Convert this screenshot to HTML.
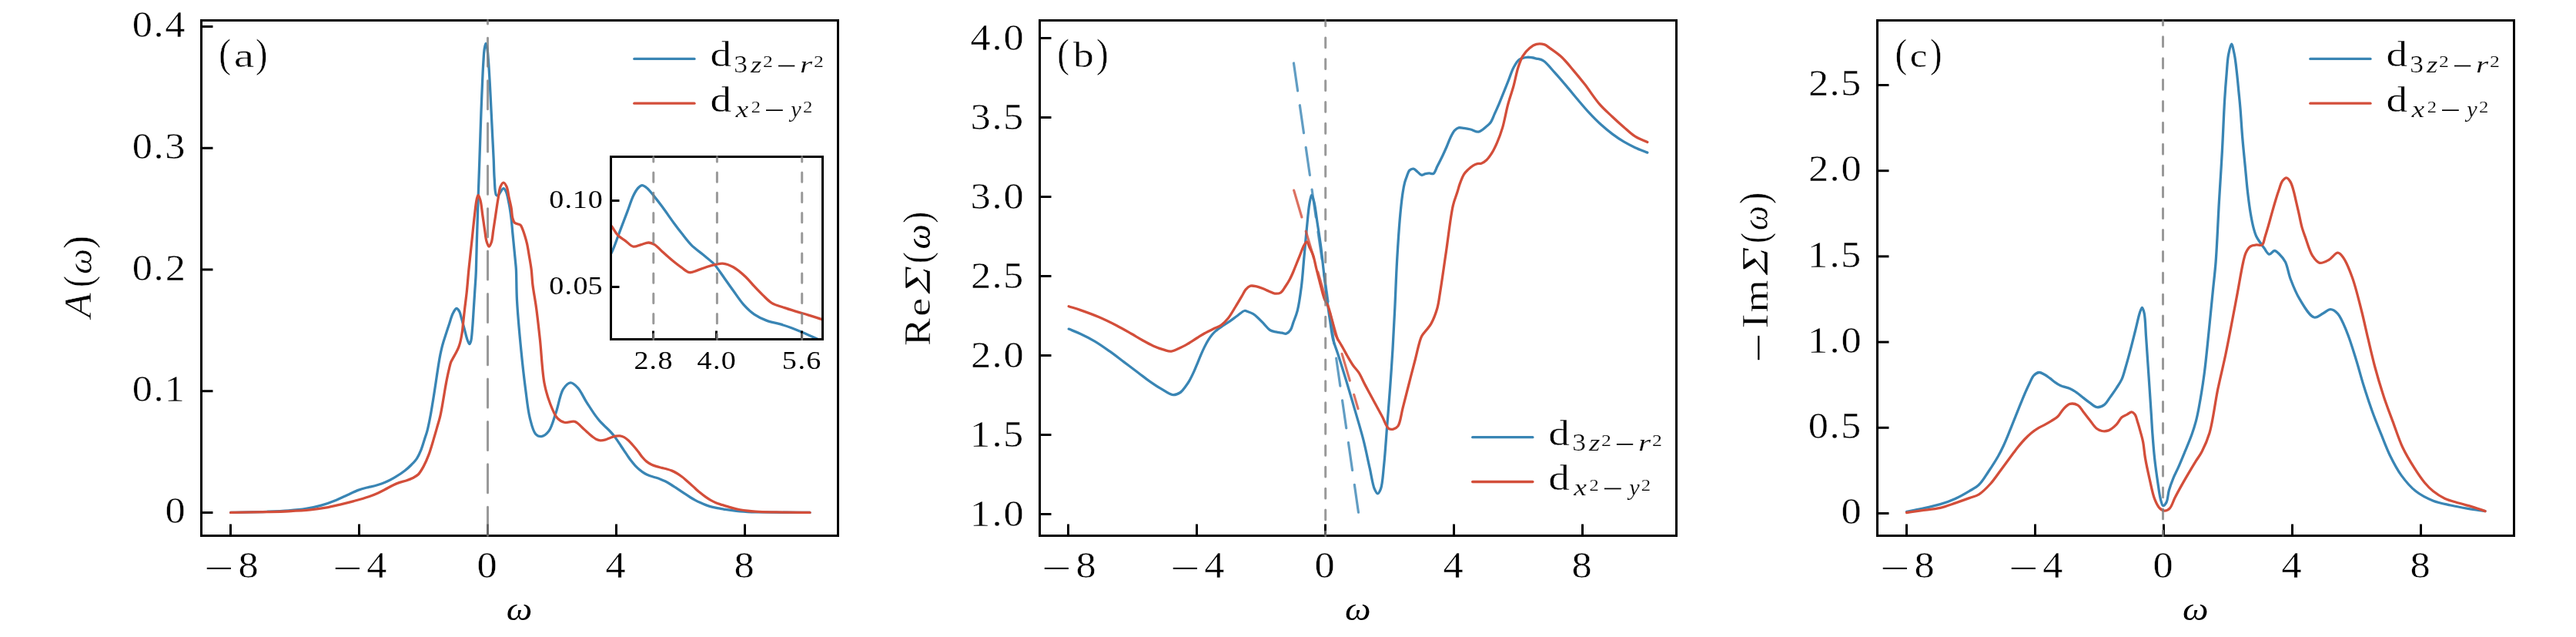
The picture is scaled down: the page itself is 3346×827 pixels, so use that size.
<!DOCTYPE html><html><head><meta charset="utf-8"><style>html,body{margin:0;padding:0;background:#fff;overflow:hidden;width:3346px;height:827px;}svg{display:block;will-change:transform;}text{font-family:"Liberation Serif",serif;}</style></head><body><svg width="3346" height="827" viewBox="0 0 3346 827" font-family="'Liberation Serif', serif"><rect width="3346" height="827" fill="#fff"/><path d="M299.60 665.40C315.23 665.03 332.83 664.78 346.50 664.28C357.12 663.89 365.91 663.58 374.80 662.88C382.77 662.25 390.15 661.60 397.40 660.42C404.25 659.31 410.66 657.97 417.20 656.12C423.83 654.24 430.92 651.62 436.90 649.20C442.07 647.11 446.37 644.83 451.10 642.69C455.80 640.56 460.71 638.08 465.20 636.40C469.13 634.94 473.80 633.69 476.50 632.98C477.99 632.59 478.54 632.54 480.00 632.20C482.48 631.62 486.69 630.73 490.00 629.75C493.36 628.76 496.46 627.80 500.00 626.29C504.29 624.45 509.42 621.76 513.80 619.17C518.04 616.66 522.30 613.84 525.90 611.02C529.11 608.51 531.87 605.94 534.50 603.25C537.01 600.69 539.42 598.27 541.40 595.30C543.48 592.18 544.99 588.79 546.60 584.90C548.52 580.26 550.29 573.83 551.80 569.16C553.01 565.44 553.96 563.05 555.00 559.10C556.44 553.64 557.95 545.90 559.20 539.30C560.44 532.75 561.56 525.39 562.50 519.65C563.23 515.19 563.77 511.75 564.40 507.73C565.04 503.62 565.67 499.45 566.30 495.28C566.94 491.05 567.57 486.68 568.20 482.53C568.80 478.56 569.37 474.68 570.00 470.90C570.60 467.31 571.23 463.72 571.90 460.40C572.51 457.38 573.13 454.49 573.80 451.78C574.40 449.33 574.96 447.33 575.70 444.83C576.58 441.85 577.65 438.66 578.80 435.11C580.20 430.79 581.92 425.49 583.50 420.77C585.05 416.16 586.33 410.73 588.20 407.10C589.60 404.38 591.34 400.63 592.90 400.50C594.17 400.39 595.68 402.60 596.70 404.30C598.07 406.58 598.52 410.10 599.50 413.48C600.70 417.64 602.04 422.80 603.30 427.42C604.54 431.98 605.65 437.49 607.00 441.00C607.91 443.36 609.06 446.71 609.90 446.70C610.58 446.69 611.19 444.68 611.70 442.90C612.72 439.31 613.04 432.22 613.60 425.90C614.31 417.97 614.85 407.36 615.40 399.04C615.87 391.82 616.26 385.49 616.70 378.80C617.13 372.21 617.71 364.51 618.00 359.20C618.20 355.56 618.26 354.06 618.40 350.00C618.67 342.06 618.98 325.91 619.30 314.80C619.59 304.82 619.89 296.12 620.20 286.37C620.53 276.05 620.86 264.46 621.20 254.50C621.50 245.71 621.81 237.82 622.10 229.68C622.38 221.80 622.62 214.66 622.90 206.41C623.22 197.03 623.56 186.54 623.90 176.35C624.26 165.81 624.60 154.85 625.00 144.20C625.40 133.67 625.83 123.27 626.30 112.80C626.77 102.33 627.21 90.47 627.80 81.40C628.25 74.45 628.53 67.57 629.30 63.00C629.77 60.22 630.41 56.41 631.00 56.40C631.58 56.39 632.29 59.94 632.80 62.60C633.67 67.14 634.05 74.33 634.60 81.40C635.31 90.53 635.92 102.29 636.50 112.80C637.09 123.39 637.58 134.20 638.10 144.71C638.61 154.96 639.09 164.84 639.60 175.09C640.12 185.60 640.75 197.01 641.20 207.00C641.60 215.84 641.59 224.01 642.20 232.00C642.76 239.39 642.65 250.98 644.60 253.30C645.27 254.09 646.25 254.28 647.00 254.00C648.14 253.57 648.95 250.72 650.10 249.17C651.28 247.58 652.77 244.59 654.00 244.60C655.13 244.61 656.26 246.62 657.20 248.50C658.89 251.87 659.98 258.59 661.10 264.20C662.37 270.55 663.42 278.24 664.20 284.70C664.90 290.44 665.16 295.35 665.70 301.03C666.29 307.21 666.97 313.95 667.60 320.43C668.23 326.91 668.99 334.46 669.50 339.89C669.87 343.81 670.14 345.51 670.40 350.00C670.92 358.92 670.67 375.02 671.50 390.00C672.57 409.25 674.99 435.54 677.00 455.90C678.74 473.54 680.57 489.88 682.60 505.20C684.38 518.63 685.61 532.31 688.30 542.90C690.34 550.94 692.29 559.97 695.80 563.60C697.93 565.80 700.74 566.91 703.30 566.60C706.38 566.23 710.06 563.34 712.80 559.80C716.89 554.51 719.20 544.02 722.20 535.40C725.50 525.92 727.34 511.79 731.60 505.20C734.28 501.05 737.79 497.10 741.00 496.90C744.06 496.71 747.44 500.19 750.40 503.30C754.49 507.60 757.85 515.75 761.70 521.80C765.49 527.77 770.06 534.91 773.30 539.38C775.40 542.27 776.82 544.06 778.80 546.30C780.84 548.62 783.19 550.84 785.40 553.05C787.59 555.24 789.94 557.32 792.00 559.50C793.96 561.57 795.82 563.66 797.50 565.78C799.10 567.79 800.45 569.81 801.90 571.90C803.39 574.05 804.83 576.30 806.30 578.50C807.77 580.69 809.23 582.89 810.70 585.08C812.17 587.26 813.62 589.48 815.10 591.62C816.55 593.74 817.91 595.80 819.50 597.86C821.17 600.03 823.07 602.37 824.90 604.33C826.57 606.12 828.07 607.57 830.00 609.19C832.23 611.06 835.08 613.30 837.60 614.78C839.81 616.07 841.97 616.94 844.20 617.78C846.37 618.58 848.61 619.04 850.80 619.72C853.01 620.42 855.22 621.09 857.40 621.92C859.62 622.78 861.84 623.73 864.00 624.81C866.20 625.91 868.34 627.18 870.50 628.48C872.71 629.82 874.91 631.29 877.10 632.73C879.31 634.17 881.54 635.67 883.70 637.11C885.77 638.49 887.72 639.82 889.80 641.19C891.95 642.61 894.18 644.11 896.40 645.48C898.58 646.82 900.78 648.13 903.00 649.33C905.18 650.50 907.38 651.59 909.60 652.60C911.78 653.60 913.99 654.53 916.20 655.36C918.36 656.17 920.51 656.91 922.70 657.54C924.88 658.18 927.09 658.70 929.30 659.17C931.49 659.64 933.96 660.04 935.90 660.37C937.43 660.64 938.30 660.77 940.00 661.04C942.78 661.48 947.40 662.25 951.00 662.73C954.46 663.19 957.80 663.59 961.20 663.90C964.60 664.21 968.00 664.42 971.40 664.60C974.80 664.77 977.62 664.86 981.60 664.95C987.23 665.08 993.70 665.14 1002.00 665.21C1014.99 665.32 1035.33 665.34 1052.00 665.40" fill="none" stroke="#3985b4" stroke-width="3.30" stroke-linejoin="round" stroke-linecap="round" /><path d="M299.60 665.40C315.23 665.14 332.83 664.95 346.50 664.63C357.12 664.38 365.38 664.22 374.80 663.77C384.21 663.32 394.44 662.82 403.00 661.94C410.20 661.19 416.22 660.31 422.80 659.12C429.42 657.93 436.27 656.26 442.60 654.77C448.47 653.40 453.66 652.14 459.50 650.56C465.86 648.83 473.56 646.74 479.30 644.75C483.84 643.18 487.65 641.58 491.30 639.94C494.46 638.51 496.98 637.14 500.00 635.58C503.32 633.85 507.06 631.58 510.40 629.98C513.37 628.56 516.10 627.36 519.00 626.35C521.83 625.37 524.75 624.94 527.60 623.98C530.52 623.00 533.63 621.89 536.30 620.50C538.80 619.20 541.09 618.09 543.20 616.00C545.79 613.43 547.95 609.51 550.10 605.60C552.61 601.04 554.88 595.71 557.00 590.10C559.40 583.75 561.60 575.66 563.50 569.36C565.08 564.10 566.31 559.79 567.70 554.87C569.14 549.77 570.72 544.85 572.00 539.30C573.43 533.07 574.69 524.97 575.70 519.24C576.46 514.97 576.96 511.74 577.60 508.02C578.23 504.36 578.84 500.63 579.50 497.12C580.11 493.83 580.76 490.61 581.40 487.58C581.99 484.80 582.52 482.38 583.20 479.62C583.94 476.58 584.62 472.85 585.70 470.10C586.60 467.82 587.78 466.20 588.90 464.14C590.11 461.93 591.54 459.58 592.70 457.28C593.83 455.05 594.95 452.74 595.80 450.54C596.58 448.53 597.16 446.60 597.70 444.62C598.23 442.66 598.58 440.88 599.00 438.72C599.51 436.10 600.09 433.00 600.50 430.00C600.93 426.84 601.09 424.09 601.50 420.23C602.10 414.58 603.01 406.23 603.80 399.39C604.57 392.73 605.43 386.94 606.20 379.70C607.14 370.82 607.88 360.33 608.90 350.00C610.02 338.72 611.44 326.46 612.70 314.65C613.97 302.79 615.26 289.27 616.50 279.00C617.45 271.16 618.14 262.74 619.30 258.30C619.88 256.09 620.49 253.51 621.20 253.50C622.03 253.49 623.20 257.26 624.00 260.10C625.31 264.77 625.86 272.84 626.80 279.28C627.76 285.80 628.78 292.99 629.70 298.99C630.47 304.03 630.74 309.10 631.90 312.90C632.76 315.73 634.07 319.96 635.20 320.00C636.21 320.04 637.47 316.88 638.30 314.50C639.59 310.82 639.86 304.95 640.70 299.57C641.68 293.26 642.75 285.87 643.80 278.97C644.85 272.01 645.87 264.47 647.00 258.00C647.98 252.38 648.44 245.97 650.10 242.30C651.15 239.97 652.69 237.21 654.00 237.20C655.32 237.19 656.92 240.02 658.00 242.30C659.61 245.70 660.07 251.70 661.10 256.40C662.13 261.10 663.42 265.95 664.20 270.50C664.92 274.70 664.79 279.31 665.70 282.70C666.39 285.29 667.14 288.00 668.50 289.30C669.52 290.28 671.03 290.24 672.30 290.73C673.57 291.21 675.06 291.25 676.10 292.20C677.39 293.38 678.03 295.76 678.90 297.85C679.92 300.29 680.80 303.09 681.70 306.01C682.71 309.32 683.72 312.77 684.60 316.70C685.66 321.44 686.49 327.12 687.40 332.52C688.36 338.20 689.46 344.00 690.20 350.00C690.98 356.31 691.03 362.29 691.90 369.50C692.99 378.55 695.12 389.07 696.60 400.00C698.31 412.62 699.79 426.14 701.40 440.90C703.29 458.28 704.19 482.47 707.10 497.70C709.12 508.24 711.53 516.08 714.60 524.00C717.30 530.96 720.14 538.76 724.00 542.90C726.79 545.89 729.93 547.68 733.50 548.50C737.41 549.39 742.70 546.14 746.70 547.40C750.91 548.73 754.58 553.84 758.00 556.79C760.92 559.31 763.77 562.04 766.00 563.95C767.55 565.27 768.61 566.20 770.00 567.23C771.41 568.26 772.79 569.37 774.40 570.14C776.08 570.94 777.97 571.72 779.90 571.86C781.98 572.02 784.33 571.41 786.50 570.83C788.73 570.23 790.89 569.05 793.10 568.27C795.29 567.51 797.58 566.60 799.70 566.22C801.59 565.88 803.39 565.70 805.20 565.92C807.05 566.16 808.94 566.75 810.70 567.65C812.62 568.63 814.44 570.18 816.20 571.75C818.09 573.43 819.82 575.50 821.60 577.50C823.45 579.56 825.58 582.06 827.10 583.94C828.24 585.35 828.95 586.32 830.00 587.72C831.30 589.45 832.71 591.67 834.30 593.54C835.96 595.49 837.77 597.55 839.80 599.16C841.81 600.76 844.15 602.10 846.40 603.20C848.55 604.25 850.78 604.97 853.00 605.67C855.18 606.37 857.40 606.85 859.60 607.40C861.80 607.95 864.02 608.36 866.20 608.98C868.39 609.60 870.56 610.22 872.70 611.11C874.93 612.05 877.14 613.21 879.30 614.50C881.54 615.84 884.01 617.63 885.90 619.03C887.39 620.14 888.35 620.94 889.80 622.17C891.73 623.80 894.21 626.05 896.40 628.02C898.61 630.02 900.79 632.09 903.00 634.08C905.19 636.04 907.37 638.01 909.60 639.85C911.77 641.64 913.97 643.39 916.20 644.97C918.34 646.49 920.49 647.93 922.70 649.19C924.86 650.41 927.07 651.50 929.30 652.45C931.47 653.37 933.95 654.17 935.90 654.82C937.42 655.33 938.30 655.57 940.00 656.09C942.78 656.93 947.39 658.40 951.00 659.36C954.45 660.27 957.79 661.10 961.20 661.75C964.59 662.40 967.99 662.87 971.40 663.25C974.79 663.63 977.61 663.82 981.60 664.05C987.23 664.37 995.20 664.62 1002.00 664.80C1008.80 664.98 1014.97 665.06 1022.40 665.15C1031.35 665.27 1042.13 665.32 1052.00 665.40" fill="none" stroke="#d34e3a" stroke-width="3.30" stroke-linejoin="round" stroke-linecap="round" /><rect x="793.50" y="203.50" width="275.00" height="237.00" fill="#fff"/><clipPath id="ic"><rect x="793.50" y="203.50" width="275.00" height="237.00"/></clipPath><g clip-path="url(#ic)"><path d="M790.00 335.00C791.67 332.27 793.22 330.42 795.00 326.80C798.05 320.60 801.75 309.20 805.10 300.41C808.45 291.63 812.00 282.27 815.10 274.09C817.81 266.94 820.02 259.44 822.70 254.00C824.69 249.98 826.66 246.28 828.90 244.00C830.51 242.36 832.19 240.78 834.00 240.70C835.94 240.62 838.05 242.29 840.20 244.00C843.38 246.53 847.00 251.60 850.30 255.63C853.70 259.78 856.68 263.67 860.30 268.54C864.87 274.69 870.84 283.50 875.40 289.69C879.03 294.62 881.83 298.32 885.40 302.83C889.31 307.76 893.37 313.47 898.00 318.10C902.61 322.70 908.31 326.58 913.10 330.53C917.47 334.14 922.66 338.07 925.60 340.88C927.38 342.57 928.00 343.27 929.60 345.25C932.51 348.85 937.20 355.88 941.00 361.20C944.80 366.53 948.41 371.72 952.40 377.22C956.71 383.16 961.18 390.26 966.00 395.60C970.34 400.41 974.71 404.66 979.70 408.10C984.59 411.47 990.01 413.97 995.60 416.10C1001.35 418.29 1008.19 419.27 1013.80 420.95C1018.71 422.41 1022.97 423.82 1027.50 425.48C1032.07 427.16 1036.26 428.93 1041.10 430.98C1046.74 433.37 1053.79 436.54 1059.30 439.05C1063.92 441.16 1067.77 443.02 1072.00 445.00" fill="none" stroke="#3985b4" stroke-width="3.30" stroke-linejoin="round" stroke-linecap="round" /><path d="M790.00 288.00C791.67 290.19 793.19 292.08 795.00 294.57C797.30 297.73 799.60 302.41 802.60 305.50C805.50 308.48 809.25 310.45 812.60 312.88C815.95 315.31 819.18 319.44 822.70 320.10C825.91 320.71 829.37 318.42 832.70 317.58C836.03 316.72 839.61 314.88 842.70 315.00C845.42 315.11 847.75 316.09 850.30 317.60C853.61 319.56 856.76 323.56 860.30 326.74C864.24 330.27 868.65 334.32 872.90 337.82C877.02 341.22 881.39 344.69 885.40 347.46C888.88 349.87 892.03 353.18 895.50 353.70C898.74 354.18 902.00 352.17 905.50 351.08C909.48 349.84 913.97 347.85 918.10 346.55C922.00 345.33 925.97 344.20 929.60 343.45C932.79 342.78 935.40 341.81 938.70 342.10C942.84 342.47 947.87 344.26 952.40 346.70C957.76 349.59 963.60 354.83 968.30 359.20C972.60 363.20 975.87 367.64 979.70 371.70C983.47 375.69 987.24 379.71 991.10 383.37C994.81 386.89 998.04 390.67 1002.40 393.30C1007.06 396.11 1012.86 397.50 1018.40 399.42C1024.24 401.44 1030.97 403.35 1036.60 405.05C1041.46 406.53 1045.26 407.54 1050.20 409.10C1056.20 410.98 1066.86 414.10 1070.00 415.65C1071.07 416.17 1071.33 416.55 1072.00 417.00" fill="none" stroke="#d34e3a" stroke-width="3.30" stroke-linejoin="round" stroke-linecap="round" /></g><rect x="793.50" y="203.50" width="275.00" height="237.00" fill="none" stroke="#000" stroke-width="3.00"/><line x1="793.50" y1="260.50" x2="804.50" y2="260.50" stroke="#000" stroke-width="3.00"/><line x1="793.50" y1="372.50" x2="804.50" y2="372.50" stroke="#000" stroke-width="3.00"/><line x1="848.50" y1="440.50" x2="848.50" y2="429.50" stroke="#000" stroke-width="3.00"/><line x1="930.50" y1="440.50" x2="930.50" y2="429.50" stroke="#000" stroke-width="3.00"/><line x1="1041.50" y1="440.50" x2="1041.50" y2="429.50" stroke="#000" stroke-width="3.00"/><path d="M848.80 440.50L848.80 203.50" stroke="#808080" stroke-opacity="0.80" stroke-width="3.00" stroke-linecap="round" stroke-dasharray="12.20 14.00" stroke-dashoffset="5.40" fill="none"/><path d="M931.40 440.50L931.40 203.50" stroke="#808080" stroke-opacity="0.80" stroke-width="3.00" stroke-linecap="round" stroke-dasharray="12.20 14.00" stroke-dashoffset="5.40" fill="none"/><path d="M1041.70 440.50L1041.70 203.50" stroke="#808080" stroke-opacity="0.80" stroke-width="3.00" stroke-linecap="round" stroke-dasharray="12.20 14.00" stroke-dashoffset="5.40" fill="none"/><text transform="translate(713.19 270.00) scale(1.1000 1)" font-size="34.60" font-style="normal" fill="#000">0</text><text transform="translate(733.54 270.00) scale(1.1000 1)" font-size="34.60" font-style="normal" fill="#000">.</text><text transform="translate(743.86 270.00) scale(1.1000 1)" font-size="34.60" font-style="normal" fill="#000">1</text><text transform="translate(763.78 270.00) scale(1.1000 1)" font-size="34.60" font-style="normal" fill="#000">0</text><text transform="translate(713.19 382.00) scale(1.1000 1)" font-size="34.60" font-style="normal" fill="#000">0</text><text transform="translate(733.54 382.00) scale(1.1000 1)" font-size="34.60" font-style="normal" fill="#000">.</text><text transform="translate(744.38 382.00) scale(1.1000 1)" font-size="34.60" font-style="normal" fill="#000">0</text><text transform="translate(763.42 382.00) scale(1.1000 1)" font-size="34.60" font-style="normal" fill="#000">5</text><text transform="translate(823.40 479.20) scale(1.1000 1)" font-size="34.60" font-style="normal" fill="#000">2</text><text transform="translate(843.54 479.20) scale(1.1000 1)" font-size="34.60" font-style="normal" fill="#000">.</text><text transform="translate(854.38 479.20) scale(1.1000 1)" font-size="34.60" font-style="normal" fill="#000">8</text><text transform="translate(905.51 479.20) scale(1.1000 1)" font-size="34.60" font-style="normal" fill="#000">4</text><text transform="translate(925.94 479.20) scale(1.1000 1)" font-size="34.60" font-style="normal" fill="#000">.</text><text transform="translate(936.79 479.20) scale(1.1000 1)" font-size="34.60" font-style="normal" fill="#000">0</text><text transform="translate(1015.82 479.20) scale(1.1000 1)" font-size="34.60" font-style="normal" fill="#000">5</text><text transform="translate(1036.54 479.20) scale(1.1000 1)" font-size="34.60" font-style="normal" fill="#000">.</text><text transform="translate(1047.13 479.20) scale(1.1000 1)" font-size="34.60" font-style="normal" fill="#000">6</text><rect x="261.50" y="26.50" width="827.00" height="669.00" fill="none" stroke="#000" stroke-width="3.00"/><line x1="261.50" y1="665.50" x2="276.50" y2="665.50" stroke="#000" stroke-width="3.00"/><line x1="261.50" y1="507.75" x2="276.50" y2="507.75" stroke="#000" stroke-width="3.00"/><line x1="261.50" y1="350.00" x2="276.50" y2="350.00" stroke="#000" stroke-width="3.00"/><line x1="261.50" y1="192.25" x2="276.50" y2="192.25" stroke="#000" stroke-width="3.00"/><line x1="261.50" y1="34.50" x2="276.50" y2="34.50" stroke="#000" stroke-width="3.00"/><line x1="299.50" y1="695.50" x2="299.50" y2="680.50" stroke="#000" stroke-width="3.00"/><line x1="466.50" y1="695.50" x2="466.50" y2="680.50" stroke="#000" stroke-width="3.00"/><line x1="633.50" y1="695.50" x2="633.50" y2="680.50" stroke="#000" stroke-width="3.00"/><line x1="800.50" y1="695.50" x2="800.50" y2="680.50" stroke="#000" stroke-width="3.00"/><line x1="967.50" y1="695.50" x2="967.50" y2="680.50" stroke="#000" stroke-width="3.00"/><path d="M633.50 695.50L633.50 26.50" stroke="#808080" stroke-opacity="0.80" stroke-width="3.00" stroke-linecap="round" stroke-dasharray="37.00 18.35" stroke-dashoffset="-0.35" fill="none"/><text transform="translate(214.46 679.20) scale(1.1000 1)" font-size="47.60" font-style="normal" fill="#000" stroke="#fff" stroke-width="0.45">0</text><text transform="translate(171.66 521.45) scale(1.1000 1)" font-size="47.60" font-style="normal" fill="#000" stroke="#fff" stroke-width="0.45">0</text><text transform="translate(199.61 521.45) scale(1.1000 1)" font-size="47.60" font-style="normal" fill="#000" stroke="#fff" stroke-width="0.45">.</text><text transform="translate(213.73 521.45) scale(1.1000 1)" font-size="47.60" font-style="normal" fill="#000" stroke="#fff" stroke-width="0.45">1</text><text transform="translate(171.66 363.70) scale(1.1000 1)" font-size="47.60" font-style="normal" fill="#000" stroke="#fff" stroke-width="0.45">0</text><text transform="translate(199.61 363.70) scale(1.1000 1)" font-size="47.60" font-style="normal" fill="#000" stroke="#fff" stroke-width="0.45">.</text><text transform="translate(214.75 363.70) scale(1.1000 1)" font-size="47.60" font-style="normal" fill="#000" stroke="#fff" stroke-width="0.45">2</text><text transform="translate(171.66 205.95) scale(1.1000 1)" font-size="47.60" font-style="normal" fill="#000" stroke="#fff" stroke-width="0.45">0</text><text transform="translate(199.61 205.95) scale(1.1000 1)" font-size="47.60" font-style="normal" fill="#000" stroke="#fff" stroke-width="0.45">.</text><text transform="translate(214.23 205.95) scale(1.1000 1)" font-size="47.60" font-style="normal" fill="#000" stroke="#fff" stroke-width="0.45">3</text><text transform="translate(171.66 48.20) scale(1.1000 1)" font-size="47.60" font-style="normal" fill="#000" stroke="#fff" stroke-width="0.45">0</text><text transform="translate(199.61 48.20) scale(1.1000 1)" font-size="47.60" font-style="normal" fill="#000" stroke="#fff" stroke-width="0.45">.</text><text transform="translate(214.36 48.20) scale(1.1000 1)" font-size="47.60" font-style="normal" fill="#000" stroke="#fff" stroke-width="0.45">4</text><rect x="268.75" y="736.90" width="31.20" height="2.10" fill="#000"/><text transform="translate(309.41 750.00) scale(1.1000 1)" font-size="47.60" font-style="normal" fill="#000" stroke="#fff" stroke-width="0.45">8</text><rect x="435.75" y="736.90" width="31.20" height="2.10" fill="#000"/><text transform="translate(476.31 750.00) scale(1.1000 1)" font-size="47.60" font-style="normal" fill="#000" stroke="#fff" stroke-width="0.45">4</text><text transform="translate(619.51 750.00) scale(1.1000 1)" font-size="47.60" font-style="normal" fill="#000" stroke="#fff" stroke-width="0.45">0</text><text transform="translate(786.41 750.00) scale(1.1000 1)" font-size="47.60" font-style="normal" fill="#000" stroke="#fff" stroke-width="0.45">4</text><text transform="translate(953.51 750.00) scale(1.1000 1)" font-size="47.60" font-style="normal" fill="#000" stroke="#fff" stroke-width="0.45">8</text><line x1="823.80" y1="76.40" x2="902.00" y2="76.40" stroke="#3985b4" stroke-width="3.3" stroke-linecap="round"/><line x1="823.80" y1="134.20" x2="902.00" y2="134.20" stroke="#d34e3a" stroke-width="3.3" stroke-linecap="round"/><text transform="translate(922.41 86.45) scale(1.1935 1)" font-size="46.19" font-style="normal" fill="#000" stroke="#fff" stroke-width="0.43">d</text><text transform="translate(953.31 93.59) scale(1.1254 1)" font-size="31.40" font-style="normal" fill="#000" stroke="#fff" stroke-width="0.22">3</text><text transform="translate(975.01 93.90) scale(1.2108 1)" font-size="30.50" font-style="italic" fill="#000" stroke="#fff" stroke-width="0.21">z</text><text transform="translate(991.07 87.30) scale(1.2509 1)" font-size="20.54" font-style="normal" fill="#000" stroke="#fff" stroke-width="0.14">2</text><text transform="translate(1039.02 93.50) scale(1.4388 1)" font-size="28.86" font-style="italic" fill="#000" stroke="#fff" stroke-width="0.20">r</text><text transform="translate(1057.07 87.30) scale(1.2509 1)" font-size="20.54" font-style="normal" fill="#000" stroke="#fff" stroke-width="0.14">2</text><text transform="translate(922.41 144.55) scale(1.1862 1)" font-size="46.47" font-style="normal" fill="#000" stroke="#fff" stroke-width="0.44">d</text><text transform="translate(955.46 151.60) scale(1.2710 1)" font-size="29.63" font-style="italic" fill="#000" stroke="#fff" stroke-width="0.20">x</text><text transform="translate(975.63 145.90) scale(1.1562 1)" font-size="21.14" font-style="normal" fill="#000" stroke="#fff" stroke-width="0.15">2</text><text transform="translate(1027.23 151.74) scale(1.0126 1)" font-size="29.93" font-style="italic" fill="#000" stroke="#fff" stroke-width="0.21">y</text><text transform="translate(1042.91 145.90) scale(1.1679 1)" font-size="21.14" font-style="normal" fill="#000" stroke="#fff" stroke-width="0.15">2</text><rect x="1011.00" y="84.70" width="21.30" height="1.7" fill="#000"/><rect x="995.00" y="142.30" width="21.80" height="1.7" fill="#000"/><text transform="translate(284.31 87.26) scale(0.9164 1)" font-size="51.83" font-style="normal" fill="#000" stroke="#fff" stroke-width="0.49">(</text><text transform="translate(303.81 86.56) scale(1.3316 1)" font-size="44.68" font-style="normal" fill="#000" stroke="#fff" stroke-width="0.42">a</text><text transform="translate(331.91 87.26) scale(0.8939 1)" font-size="51.83" font-style="normal" fill="#000" stroke="#fff" stroke-width="0.49">)</text><text transform="translate(657.82 804.79) scale(1.1375 1)" font-size="41.80" font-style="italic" fill="#000">ω</text><g transform="rotate(-90 107.00 361.00)"><text transform="translate(55.59 372.10) scale(1.0621 1)" font-size="49.69" font-style="italic" fill="#000" stroke="#fff" stroke-width="0.47">A</text><text transform="translate(94.90 373.34) scale(0.8770 1)" font-size="51.94" font-style="normal" fill="#000" stroke="#fff" stroke-width="0.49">(</text><text transform="translate(111.94 373.16) scale(1.0440 1)" font-size="44.93" font-style="italic" fill="#000" stroke="#fff" stroke-width="0.42">ω</text><text transform="translate(145.29 373.34) scale(0.9594 1)" font-size="51.94" font-style="normal" fill="#000" stroke="#fff" stroke-width="0.49">)</text></g><path d="M1388.20 427.10C1393.30 429.22 1398.19 430.99 1403.50 433.47C1409.53 436.29 1416.21 439.64 1422.40 443.31C1428.78 447.11 1434.98 451.54 1441.20 455.96C1447.55 460.47 1453.81 465.40 1460.10 470.12C1466.38 474.82 1473.08 479.85 1478.90 484.21C1483.94 487.98 1488.24 491.44 1493.00 494.78C1497.67 498.06 1502.22 501.18 1507.20 504.09C1512.40 507.13 1518.80 512.21 1523.60 512.60C1527.13 512.89 1530.40 511.28 1533.10 509.50C1535.84 507.70 1537.90 504.40 1539.90 501.82C1541.73 499.46 1543.10 497.41 1544.70 494.68C1546.67 491.31 1548.80 486.82 1550.60 482.93C1552.32 479.21 1553.74 475.56 1555.30 471.83C1556.88 468.04 1558.40 464.07 1560.00 460.38C1561.53 456.85 1563.06 453.37 1564.70 450.12C1566.24 447.09 1567.84 444.14 1569.50 441.48C1571.01 439.06 1572.55 436.78 1574.20 434.77C1575.70 432.95 1576.98 431.57 1578.90 429.88C1581.42 427.68 1585.14 425.20 1588.30 423.00C1591.41 420.84 1594.59 418.95 1597.70 416.80C1600.86 414.62 1603.95 412.22 1607.10 410.00C1610.22 407.79 1613.81 403.99 1616.50 403.50C1618.25 403.18 1619.54 404.13 1621.20 404.69C1623.17 405.36 1625.48 406.19 1627.50 407.40C1629.69 408.71 1631.65 410.46 1633.80 412.40C1636.33 414.69 1638.99 417.72 1641.60 420.40C1644.22 423.09 1646.63 426.75 1649.50 428.50C1651.93 429.98 1654.67 430.27 1657.30 430.89C1659.90 431.51 1662.81 431.81 1665.20 432.22C1667.20 432.57 1668.97 433.67 1670.70 433.20C1672.67 432.66 1674.73 430.59 1676.20 428.50C1677.97 425.98 1678.57 422.31 1679.90 418.64C1681.56 414.05 1683.74 409.25 1685.30 403.10C1687.46 394.59 1689.00 382.91 1690.40 372.00C1691.94 359.99 1692.73 346.67 1693.90 334.00C1695.07 321.33 1696.19 308.03 1697.40 296.00C1698.50 285.11 1699.42 272.68 1700.80 264.90C1701.64 260.13 1702.52 253.57 1703.60 253.50C1704.52 253.44 1705.74 257.95 1706.70 261.50C1708.46 268.01 1709.72 280.34 1711.20 289.98C1712.72 299.90 1714.33 309.80 1715.70 320.20C1717.15 331.23 1718.36 343.79 1719.60 354.39C1720.68 363.61 1721.71 372.23 1722.70 380.24C1723.56 387.20 1724.34 393.44 1725.20 399.75C1726.01 405.71 1726.75 410.90 1727.70 417.13C1728.81 424.37 1729.81 433.70 1731.50 440.60C1732.88 446.23 1734.84 450.58 1736.50 455.62C1738.18 460.73 1739.71 465.40 1741.50 471.06C1743.68 477.96 1745.95 485.28 1748.60 494.07C1752.15 505.84 1756.95 522.09 1760.80 535.40C1764.39 547.81 1767.93 559.31 1771.00 571.40C1774.07 583.49 1776.66 596.72 1779.20 607.95C1781.37 617.56 1782.87 629.07 1785.30 634.70C1786.56 637.61 1788.03 640.80 1789.40 640.80C1790.77 640.80 1792.36 637.70 1793.50 634.70C1795.83 628.55 1796.37 615.55 1797.60 604.10C1799.16 589.55 1800.27 571.18 1801.60 554.39C1802.97 537.16 1804.45 519.17 1805.70 502.00C1806.91 485.42 1808.00 469.74 1809.00 453.10C1810.04 435.77 1810.90 418.37 1811.80 400.00C1812.77 380.21 1813.42 358.68 1814.60 338.30C1815.76 318.25 1817.29 294.96 1818.80 278.70C1819.85 267.39 1820.90 257.73 1822.10 250.00C1822.92 244.71 1823.69 240.50 1824.70 236.70C1825.48 233.77 1826.32 231.59 1827.30 229.04C1828.31 226.42 1829.01 222.85 1830.70 221.20C1832.07 219.87 1834.23 218.88 1835.90 219.10C1837.70 219.34 1839.38 221.68 1841.10 223.02C1842.84 224.38 1844.48 226.85 1846.30 227.20C1847.93 227.51 1849.68 226.02 1851.40 225.63C1853.11 225.25 1854.87 224.92 1856.60 224.90C1858.33 224.88 1860.29 226.29 1861.80 225.50C1864.00 224.35 1865.17 219.29 1867.00 215.74C1869.16 211.55 1871.80 206.35 1873.90 201.94C1875.80 197.97 1877.40 194.41 1879.10 190.50C1880.87 186.44 1882.43 181.72 1884.30 178.00C1885.90 174.80 1887.43 171.49 1889.40 169.40C1890.96 167.75 1892.64 166.42 1894.60 165.90C1896.65 165.36 1899.08 166.11 1901.50 166.43C1904.24 166.78 1907.20 167.30 1910.20 168.02C1913.51 168.82 1917.18 171.62 1920.50 171.10C1924.10 170.54 1928.10 166.29 1930.90 164.02C1933.02 162.29 1934.55 161.17 1936.10 159.00C1938.10 156.21 1939.67 151.48 1941.20 148.17C1942.49 145.37 1943.65 142.79 1944.70 140.41C1945.59 138.41 1946.01 137.45 1947.10 134.83C1949.65 128.71 1956.04 112.72 1959.50 104.07C1962.02 97.76 1963.44 92.41 1966.00 87.70C1968.18 83.69 1970.25 79.53 1973.40 77.30C1976.31 75.24 1980.26 74.54 1983.90 74.30C1987.72 74.05 1992.15 75.21 1995.80 76.04C1999.01 76.77 2001.62 76.89 2004.70 78.80C2009.39 81.71 2014.68 89.03 2019.60 94.42C2024.65 99.97 2029.64 105.81 2034.60 111.63C2039.61 117.50 2044.50 123.63 2049.50 129.50C2054.44 135.30 2059.34 141.22 2064.40 146.65C2069.28 151.88 2074.22 156.94 2079.30 161.55C2084.16 165.97 2089.14 170.05 2094.20 173.82C2099.08 177.47 2104.05 180.87 2109.10 183.88C2113.99 186.78 2118.91 189.26 2124.00 191.63C2129.14 194.01 2134.53 195.94 2139.80 198.10" fill="none" stroke="#3985b4" stroke-width="3.30" stroke-linejoin="round" stroke-linecap="round" /><path d="M1388.20 397.70C1393.30 399.33 1397.88 400.63 1403.50 402.59C1410.55 405.04 1419.31 408.19 1427.10 411.51C1435.01 414.88 1443.25 418.92 1450.60 422.71C1457.30 426.16 1463.68 429.90 1469.50 433.23C1474.56 436.11 1478.87 438.85 1483.60 441.47C1488.27 444.07 1492.92 446.75 1497.70 448.89C1502.36 450.97 1507.61 452.96 1511.90 454.19C1515.31 455.16 1518.03 456.38 1521.30 456.10C1525.06 455.78 1529.73 452.96 1533.10 451.48C1535.70 450.33 1538.01 449.14 1539.90 448.12C1541.31 447.36 1541.96 446.94 1543.50 446.00C1546.31 444.28 1551.58 440.80 1555.30 438.48C1558.60 436.42 1561.35 434.59 1564.70 432.73C1568.37 430.70 1572.78 428.64 1576.50 426.83C1579.80 425.23 1582.93 424.48 1585.90 422.40C1589.27 420.04 1592.43 416.68 1595.40 413.00C1598.79 408.79 1601.70 403.27 1604.80 398.25C1607.97 393.11 1611.75 386.64 1614.20 382.51C1615.79 379.84 1616.41 377.78 1618.10 375.90C1619.81 374.00 1622.05 371.85 1624.40 371.20C1626.75 370.55 1629.62 371.43 1632.20 371.97C1634.86 372.53 1637.50 373.54 1640.10 374.54C1642.73 375.54 1645.28 376.89 1647.90 377.99C1650.51 379.08 1653.14 380.82 1655.80 381.10C1658.37 381.37 1661.36 381.15 1663.60 379.80C1666.17 378.25 1667.94 374.37 1669.90 371.50C1671.88 368.59 1673.74 365.57 1675.40 362.45C1677.07 359.32 1678.75 355.42 1679.90 352.75C1680.70 350.90 1680.97 350.08 1681.80 348.01C1683.38 344.06 1686.54 336.03 1688.70 330.77C1690.54 326.29 1692.12 321.40 1693.90 318.40C1695.05 316.46 1696.32 313.89 1697.40 314.00C1698.65 314.13 1699.60 318.19 1700.80 320.67C1702.27 323.72 1704.10 326.96 1705.50 331.00C1707.33 336.29 1708.51 343.58 1710.10 349.94C1711.71 356.41 1713.39 363.08 1715.10 369.48C1716.76 375.70 1718.23 382.69 1720.20 387.80C1721.71 391.72 1723.70 393.88 1725.20 397.80C1727.15 402.89 1728.56 409.84 1730.20 416.02C1731.89 422.40 1733.14 430.30 1735.20 435.50C1736.69 439.28 1738.66 441.91 1740.30 444.80C1741.75 447.36 1743.00 449.36 1744.50 452.00C1746.29 455.15 1748.20 458.88 1750.30 462.49C1752.60 466.43 1755.22 471.02 1757.80 474.72C1760.10 478.02 1762.61 480.15 1764.90 483.70C1767.76 488.14 1770.07 493.87 1773.10 499.63C1776.74 506.54 1781.40 515.12 1785.30 522.31C1788.84 528.85 1792.30 535.07 1795.50 541.00C1798.39 546.35 1800.54 554.12 1803.70 556.30C1805.58 557.60 1807.85 557.55 1809.80 557.10C1811.93 556.61 1814.19 555.47 1815.90 553.10C1818.99 548.82 1819.84 538.41 1822.00 530.10C1824.55 520.29 1827.46 508.65 1830.20 497.98C1832.93 487.36 1835.64 476.61 1838.40 466.23C1841.07 456.20 1843.25 443.29 1846.50 436.70C1848.38 432.89 1850.65 431.26 1852.70 428.54C1854.75 425.83 1856.85 423.89 1858.80 420.40C1861.67 415.27 1864.94 406.87 1866.90 400.00C1868.79 393.39 1869.14 388.28 1870.50 380.00C1872.71 366.52 1875.67 345.01 1878.40 326.72C1881.29 307.31 1884.16 280.53 1887.40 266.70C1889.16 259.18 1891.30 254.71 1892.90 249.61C1894.19 245.48 1894.92 242.17 1896.30 238.40C1897.76 234.40 1899.48 229.51 1901.50 226.30C1903.06 223.81 1904.75 222.21 1906.70 220.34C1908.76 218.36 1911.37 216.15 1913.60 214.80C1915.38 213.73 1917.03 212.98 1918.80 212.55C1920.50 212.14 1922.22 212.79 1924.00 212.20C1926.23 211.45 1928.76 209.69 1930.90 207.70C1933.42 205.37 1935.65 202.14 1937.80 198.70C1940.31 194.69 1942.54 189.94 1944.70 184.90C1947.18 179.14 1949.56 172.78 1951.60 165.90C1953.94 158.02 1956.13 146.04 1957.60 140.08C1958.38 136.90 1958.63 135.84 1959.50 132.79C1960.98 127.55 1963.98 118.90 1966.00 111.60C1968.13 103.90 1969.65 94.66 1971.90 87.70C1973.72 82.08 1975.27 77.14 1977.90 72.80C1980.33 68.80 1983.57 65.06 1986.80 62.40C1989.60 60.09 1992.57 58.05 1995.80 57.30C1999.04 56.55 2003.14 56.88 2006.20 57.90C2009.05 58.85 2010.81 60.83 2013.70 62.90C2017.86 65.87 2023.84 69.87 2028.60 74.30C2033.81 79.14 2038.59 85.31 2043.50 91.07C2048.53 96.99 2053.18 102.66 2058.40 109.36C2064.52 117.21 2071.31 127.98 2077.80 135.40C2083.25 141.64 2088.82 146.37 2094.20 151.43C2099.24 156.17 2104.08 160.57 2109.10 164.90C2114.02 169.15 2118.74 173.87 2124.00 177.20C2129.00 180.36 2134.53 182.13 2139.80 184.60" fill="none" stroke="#d34e3a" stroke-width="3.30" stroke-linejoin="round" stroke-linecap="round" /><path d="M1680.2 80.4L1764.6 666.0" stroke="#3985b4" stroke-opacity="0.8" stroke-width="3.2" stroke-linecap="round" stroke-dasharray="36.3 19.0" stroke-dashoffset="-1.6" fill="none"/><path d="M1680.2 245.6L1764.0 530.5" stroke="#d34e3a" stroke-opacity="0.8" stroke-width="3.2" stroke-linecap="round" stroke-dasharray="36.3 19.0" stroke-dashoffset="-1.6" fill="none"/><rect x="1350.50" y="26.50" width="827.00" height="669.00" fill="none" stroke="#000" stroke-width="3.00"/><line x1="1350.50" y1="667.50" x2="1365.50" y2="667.50" stroke="#000" stroke-width="3.00"/><line x1="1350.50" y1="564.50" x2="1365.50" y2="564.50" stroke="#000" stroke-width="3.00"/><line x1="1350.50" y1="461.50" x2="1365.50" y2="461.50" stroke="#000" stroke-width="3.00"/><line x1="1350.50" y1="358.50" x2="1365.50" y2="358.50" stroke="#000" stroke-width="3.00"/><line x1="1350.50" y1="255.50" x2="1365.50" y2="255.50" stroke="#000" stroke-width="3.00"/><line x1="1350.50" y1="152.50" x2="1365.50" y2="152.50" stroke="#000" stroke-width="3.00"/><line x1="1350.50" y1="49.50" x2="1365.50" y2="49.50" stroke="#000" stroke-width="3.00"/><line x1="1387.50" y1="695.50" x2="1387.50" y2="680.50" stroke="#000" stroke-width="3.00"/><line x1="1554.50" y1="695.50" x2="1554.50" y2="680.50" stroke="#000" stroke-width="3.00"/><line x1="1721.50" y1="695.50" x2="1721.50" y2="680.50" stroke="#000" stroke-width="3.00"/><line x1="1888.50" y1="695.50" x2="1888.50" y2="680.50" stroke="#000" stroke-width="3.00"/><line x1="2055.50" y1="695.50" x2="2055.50" y2="680.50" stroke="#000" stroke-width="3.00"/><path d="M1721.70 695.50L1721.70 26.50" stroke="#808080" stroke-opacity="0.80" stroke-width="3.00" stroke-linecap="round" stroke-dasharray="12.80 15.07" stroke-dashoffset="7.20" fill="none"/><text transform="translate(1259.93 682.50) scale(1.1000 1)" font-size="47.60" font-style="normal" fill="#000" stroke="#fff" stroke-width="0.45">1</text><text transform="translate(1288.61 682.50) scale(1.1000 1)" font-size="47.60" font-style="normal" fill="#000" stroke="#fff" stroke-width="0.45">.</text><text transform="translate(1303.46 682.50) scale(1.1000 1)" font-size="47.60" font-style="normal" fill="#000" stroke="#fff" stroke-width="0.45">0</text><text transform="translate(1259.93 579.50) scale(1.1000 1)" font-size="47.60" font-style="normal" fill="#000" stroke="#fff" stroke-width="0.45">1</text><text transform="translate(1288.61 579.50) scale(1.1000 1)" font-size="47.60" font-style="normal" fill="#000" stroke="#fff" stroke-width="0.45">.</text><text transform="translate(1302.96 579.50) scale(1.1000 1)" font-size="47.60" font-style="normal" fill="#000" stroke="#fff" stroke-width="0.45">5</text><text transform="translate(1260.95 476.50) scale(1.1000 1)" font-size="47.60" font-style="normal" fill="#000" stroke="#fff" stroke-width="0.45">2</text><text transform="translate(1288.61 476.50) scale(1.1000 1)" font-size="47.60" font-style="normal" fill="#000" stroke="#fff" stroke-width="0.45">.</text><text transform="translate(1303.46 476.50) scale(1.1000 1)" font-size="47.60" font-style="normal" fill="#000" stroke="#fff" stroke-width="0.45">0</text><text transform="translate(1260.95 373.50) scale(1.1000 1)" font-size="47.60" font-style="normal" fill="#000" stroke="#fff" stroke-width="0.45">2</text><text transform="translate(1288.61 373.50) scale(1.1000 1)" font-size="47.60" font-style="normal" fill="#000" stroke="#fff" stroke-width="0.45">.</text><text transform="translate(1302.96 373.50) scale(1.1000 1)" font-size="47.60" font-style="normal" fill="#000" stroke="#fff" stroke-width="0.45">5</text><text transform="translate(1260.43 270.50) scale(1.1000 1)" font-size="47.60" font-style="normal" fill="#000" stroke="#fff" stroke-width="0.45">3</text><text transform="translate(1288.61 270.50) scale(1.1000 1)" font-size="47.60" font-style="normal" fill="#000" stroke="#fff" stroke-width="0.45">.</text><text transform="translate(1303.46 270.50) scale(1.1000 1)" font-size="47.60" font-style="normal" fill="#000" stroke="#fff" stroke-width="0.45">0</text><text transform="translate(1260.43 167.50) scale(1.1000 1)" font-size="47.60" font-style="normal" fill="#000" stroke="#fff" stroke-width="0.45">3</text><text transform="translate(1288.61 167.50) scale(1.1000 1)" font-size="47.60" font-style="normal" fill="#000" stroke="#fff" stroke-width="0.45">.</text><text transform="translate(1302.96 167.50) scale(1.1000 1)" font-size="47.60" font-style="normal" fill="#000" stroke="#fff" stroke-width="0.45">5</text><text transform="translate(1260.56 64.50) scale(1.1000 1)" font-size="47.60" font-style="normal" fill="#000" stroke="#fff" stroke-width="0.45">4</text><text transform="translate(1288.61 64.50) scale(1.1000 1)" font-size="47.60" font-style="normal" fill="#000" stroke="#fff" stroke-width="0.45">.</text><text transform="translate(1303.46 64.50) scale(1.1000 1)" font-size="47.60" font-style="normal" fill="#000" stroke="#fff" stroke-width="0.45">0</text><rect x="1356.75" y="736.90" width="31.20" height="2.10" fill="#000"/><text transform="translate(1397.41 750.00) scale(1.1000 1)" font-size="47.60" font-style="normal" fill="#000" stroke="#fff" stroke-width="0.45">8</text><rect x="1523.75" y="736.90" width="31.20" height="2.10" fill="#000"/><text transform="translate(1564.31 750.00) scale(1.1000 1)" font-size="47.60" font-style="normal" fill="#000" stroke="#fff" stroke-width="0.45">4</text><text transform="translate(1707.51 750.00) scale(1.1000 1)" font-size="47.60" font-style="normal" fill="#000" stroke="#fff" stroke-width="0.45">0</text><text transform="translate(1874.41 750.00) scale(1.1000 1)" font-size="47.60" font-style="normal" fill="#000" stroke="#fff" stroke-width="0.45">4</text><text transform="translate(2041.51 750.00) scale(1.1000 1)" font-size="47.60" font-style="normal" fill="#000" stroke="#fff" stroke-width="0.45">8</text><line x1="1912.70" y1="567.70" x2="1990.90" y2="567.70" stroke="#3985b4" stroke-width="3.3" stroke-linecap="round"/><line x1="1912.70" y1="625.50" x2="1990.90" y2="625.50" stroke="#d34e3a" stroke-width="3.3" stroke-linecap="round"/><text transform="translate(2011.31 577.75) scale(1.1935 1)" font-size="46.19" font-style="normal" fill="#000" stroke="#fff" stroke-width="0.43">d</text><text transform="translate(2042.21 584.89) scale(1.1254 1)" font-size="31.40" font-style="normal" fill="#000" stroke="#fff" stroke-width="0.22">3</text><text transform="translate(2063.91 585.20) scale(1.2108 1)" font-size="30.50" font-style="italic" fill="#000" stroke="#fff" stroke-width="0.21">z</text><text transform="translate(2079.97 578.60) scale(1.2509 1)" font-size="20.54" font-style="normal" fill="#000" stroke="#fff" stroke-width="0.14">2</text><text transform="translate(2127.92 584.80) scale(1.4388 1)" font-size="28.86" font-style="italic" fill="#000" stroke="#fff" stroke-width="0.20">r</text><text transform="translate(2145.97 578.60) scale(1.2509 1)" font-size="20.54" font-style="normal" fill="#000" stroke="#fff" stroke-width="0.14">2</text><text transform="translate(2011.31 635.85) scale(1.1862 1)" font-size="46.47" font-style="normal" fill="#000" stroke="#fff" stroke-width="0.44">d</text><text transform="translate(2044.36 642.90) scale(1.2710 1)" font-size="29.63" font-style="italic" fill="#000" stroke="#fff" stroke-width="0.20">x</text><text transform="translate(2064.53 637.20) scale(1.1562 1)" font-size="21.14" font-style="normal" fill="#000" stroke="#fff" stroke-width="0.15">2</text><text transform="translate(2116.13 643.04) scale(1.0126 1)" font-size="29.93" font-style="italic" fill="#000" stroke="#fff" stroke-width="0.21">y</text><text transform="translate(2131.81 637.20) scale(1.1679 1)" font-size="21.14" font-style="normal" fill="#000" stroke="#fff" stroke-width="0.15">2</text><rect x="2099.90" y="576.00" width="21.30" height="1.7" fill="#000"/><rect x="2083.90" y="633.60" width="21.80" height="1.7" fill="#000"/><text transform="translate(1373.21 87.26) scale(0.9164 1)" font-size="51.83" font-style="normal" fill="#000" stroke="#fff" stroke-width="0.49">(</text><text transform="translate(1394.00 86.54) scale(1.1517 1)" font-size="46.62" font-style="normal" fill="#000" stroke="#fff" stroke-width="0.44">b</text><text transform="translate(1424.08 87.26) scale(0.9089 1)" font-size="51.83" font-style="normal" fill="#000" stroke="#fff" stroke-width="0.49">)</text><text transform="translate(1746.92 804.79) scale(1.1375 1)" font-size="41.80" font-style="italic" fill="#000">ω</text><g transform="rotate(-90 1196.00 362.00)"><text transform="translate(1108.96 373.80) scale(1.0993 1)" font-size="48.72" font-style="normal" fill="#000" stroke="#fff" stroke-width="0.46">R</text><text transform="translate(1147.20 374.07) scale(1.2084 1)" font-size="44.49" font-style="normal" fill="#000" stroke="#fff" stroke-width="0.42">e</text><text transform="translate(1176.22 373.80) scale(1.2728 1)" font-size="48.72" font-style="italic" fill="#000" stroke="#fff" stroke-width="0.46">Σ</text><text transform="translate(1215.93 374.41) scale(0.8675 1)" font-size="51.61" font-style="normal" fill="#000" stroke="#fff" stroke-width="0.48">(</text><text transform="translate(1234.38 374.07) scale(1.0435 1)" font-size="43.89" font-style="italic" fill="#000">ω</text><text transform="translate(1268.26 374.41) scale(0.8675 1)" font-size="51.61" font-style="normal" fill="#000" stroke="#fff" stroke-width="0.48">)</text></g><path d="M2476.50 664.30C2482.70 663.08 2488.45 662.09 2495.10 660.65C2502.86 658.96 2512.37 657.03 2520.20 654.65C2527.34 652.48 2533.92 650.09 2540.30 647.18C2546.47 644.38 2552.58 640.81 2557.90 637.62C2562.52 634.85 2566.62 633.02 2570.50 629.30C2575.12 624.88 2578.92 618.05 2583.00 612.01C2587.30 605.65 2592.20 597.99 2595.60 592.00C2598.25 587.33 2599.97 583.76 2602.10 579.22C2604.45 574.20 2606.73 568.57 2609.00 563.10C2611.33 557.49 2613.60 551.70 2615.90 545.98C2618.20 540.23 2620.49 534.42 2622.80 528.70C2625.09 523.03 2627.42 517.08 2629.70 511.80C2631.75 507.06 2633.70 502.64 2635.80 498.43C2637.74 494.51 2639.29 489.83 2641.80 487.30C2643.78 485.30 2646.37 483.64 2648.70 483.50C2650.97 483.37 2653.36 485.11 2655.60 486.30C2657.97 487.56 2660.23 489.28 2662.50 490.92C2664.83 492.62 2667.05 494.71 2669.40 496.35C2671.66 497.93 2674.31 499.67 2676.30 500.61C2677.68 501.27 2678.51 501.40 2680.00 501.89C2682.27 502.63 2685.79 503.32 2688.60 504.54C2691.57 505.83 2694.48 507.62 2697.30 509.54C2700.25 511.55 2703.02 514.16 2705.90 516.40C2708.75 518.62 2711.51 520.89 2714.50 522.92C2717.54 524.99 2720.75 528.37 2724.00 528.70C2727.09 529.01 2730.82 527.25 2733.50 525.30C2736.34 523.23 2738.01 519.62 2740.40 516.35C2743.18 512.55 2746.43 507.93 2749.10 503.80C2751.60 499.95 2754.06 496.68 2756.00 492.40C2758.20 487.54 2759.48 481.73 2761.20 475.96C2763.09 469.60 2764.86 463.08 2766.80 455.82C2769.07 447.31 2771.67 436.82 2773.90 428.03C2775.91 420.10 2777.79 410.44 2779.60 405.40C2780.56 402.73 2781.51 399.47 2782.40 399.50C2783.38 399.54 2784.45 403.47 2785.20 406.80C2786.66 413.29 2786.79 426.73 2787.50 436.50C2788.19 446.01 2788.70 454.29 2789.40 464.64C2790.26 477.41 2791.41 494.01 2792.30 507.38C2793.09 519.21 2793.87 530.94 2794.50 540.82C2795.00 548.68 2795.23 554.17 2795.80 562.00C2796.52 571.77 2797.40 583.94 2798.60 594.90C2799.80 605.91 2801.56 618.31 2803.00 627.90C2804.12 635.35 2804.90 642.47 2806.30 647.70C2807.26 651.28 2808.11 656.18 2809.60 656.50C2810.81 656.76 2812.83 654.25 2814.00 652.10C2815.86 648.69 2815.87 641.79 2817.30 636.70C2818.76 631.52 2820.67 626.27 2822.70 621.30C2824.68 616.44 2827.00 612.38 2829.30 607.18C2832.08 600.90 2835.19 593.27 2838.10 586.18C2841.06 578.94 2844.42 571.16 2846.90 564.20C2849.09 558.05 2850.86 552.41 2852.40 546.60C2853.87 541.02 2854.70 536.89 2856.00 530.00C2858.11 518.79 2860.97 501.56 2863.10 485.60C2865.58 467.06 2867.61 444.49 2869.60 425.30C2871.41 407.79 2873.08 390.31 2874.60 375.06C2875.87 362.33 2877.02 354.01 2878.10 340.00C2879.72 319.12 2880.96 286.84 2882.40 261.90C2883.73 238.97 2885.20 217.90 2886.40 195.90C2887.60 173.93 2888.46 148.53 2889.60 130.00C2890.43 116.47 2891.30 105.43 2892.20 94.90C2892.94 86.28 2893.22 78.20 2894.50 71.40C2895.51 66.02 2897.18 57.20 2898.50 57.20C2899.82 57.20 2901.31 66.03 2902.40 71.40C2903.78 78.21 2904.59 87.01 2905.50 94.90C2906.42 102.88 2907.14 111.24 2907.90 119.00C2908.61 126.24 2909.22 131.90 2909.90 140.00C2910.84 151.10 2911.69 166.29 2912.80 179.50C2913.92 192.81 2915.42 207.31 2916.60 219.56C2917.60 229.93 2918.29 238.77 2919.40 248.30C2920.50 257.76 2921.78 268.06 2923.20 276.50C2924.37 283.45 2925.56 289.94 2927.00 295.40C2928.13 299.69 2929.07 303.23 2930.70 306.70C2932.25 310.00 2934.55 313.03 2936.40 315.78C2938.00 318.17 2939.35 320.08 2941.10 322.33C2943.07 324.87 2945.35 329.90 2947.70 330.20C2949.78 330.47 2952.10 325.50 2954.30 325.50C2956.50 325.50 2958.78 328.15 2960.90 330.20C2963.52 332.73 2966.25 335.82 2968.40 340.00C2971.37 345.77 2972.39 354.83 2975.30 362.50C2978.50 370.93 2982.11 380.26 2987.10 388.40C2992.24 396.79 2999.79 410.50 3005.90 412.00C3009.90 412.98 3014.03 408.58 3017.70 406.76C3021.05 405.10 3023.98 401.54 3027.10 401.60C3030.28 401.66 3033.68 404.14 3036.60 407.30C3041.09 412.16 3044.65 421.98 3048.30 430.80C3052.70 441.43 3056.70 455.15 3060.40 467.00C3063.93 478.30 3066.63 489.18 3070.10 500.30C3073.62 511.58 3077.48 523.36 3081.40 534.20C3085.07 544.35 3088.96 553.88 3092.80 563.44C3096.53 572.70 3099.76 581.82 3104.10 590.70C3108.51 599.71 3113.31 609.13 3119.10 617.10C3124.67 624.76 3130.91 632.22 3138.00 637.80C3144.80 643.15 3152.87 647.14 3160.60 650.20C3167.95 653.11 3175.64 654.31 3183.20 656.00C3190.71 657.67 3198.29 659.02 3205.80 660.29C3213.22 661.55 3220.60 662.50 3228.00 663.60" fill="none" stroke="#3985b4" stroke-width="3.30" stroke-linejoin="round" stroke-linecap="round" /><path d="M2476.50 665.50C2482.70 664.60 2488.43 663.74 2495.10 662.80C2502.84 661.72 2512.37 661.18 2520.20 659.40C2527.35 657.77 2533.84 655.08 2540.30 652.89C2546.38 650.83 2552.53 648.64 2557.90 646.66C2562.46 644.97 2566.36 644.37 2570.50 641.80C2575.59 638.64 2580.72 633.28 2585.50 628.00C2590.81 622.14 2595.58 614.63 2600.60 607.90C2605.64 601.15 2611.92 592.59 2615.70 587.57C2617.94 584.60 2619.05 583.03 2621.10 580.51C2623.60 577.43 2626.75 573.62 2629.70 570.50C2632.52 567.52 2635.41 564.61 2638.40 562.15C2641.19 559.86 2644.08 557.91 2647.00 556.12C2649.81 554.41 2652.74 553.16 2655.60 551.59C2658.51 549.99 2661.44 548.37 2664.30 546.58C2667.21 544.77 2670.35 543.23 2672.90 540.80C2675.63 538.20 2677.32 534.07 2680.00 531.30C2682.58 528.63 2685.39 525.24 2688.60 524.40C2691.74 523.57 2696.13 524.45 2699.00 526.10C2701.91 527.77 2703.50 531.43 2705.90 534.43C2708.64 537.84 2711.61 541.86 2714.50 545.52C2717.37 549.15 2720.18 553.94 2723.20 556.30C2725.44 558.05 2727.61 559.04 2730.10 559.50C2732.75 559.99 2735.85 559.95 2738.70 558.90C2742.19 557.61 2746.17 554.15 2749.10 551.20C2751.89 548.39 2753.41 543.93 2756.00 541.70C2758.11 539.88 2760.69 539.29 2762.90 538.10C2764.98 536.99 2767.11 534.65 2768.90 534.80C2770.50 534.93 2772.02 536.53 2773.20 538.20C2774.86 540.54 2775.57 544.81 2776.70 548.35C2777.91 552.16 2779.08 556.22 2780.20 560.32C2781.38 564.62 2782.63 568.62 2783.60 573.60C2784.82 579.83 2785.22 587.44 2786.50 594.90C2787.94 603.25 2789.99 612.52 2792.00 621.30C2794.02 630.12 2795.88 640.73 2798.60 647.70C2800.54 652.66 2802.53 657.23 2805.20 659.80C2807.15 661.68 2809.60 663.10 2811.80 663.10C2814.00 663.10 2816.47 661.75 2818.40 659.80C2821.16 657.01 2822.59 650.93 2825.00 646.24C2827.65 641.08 2830.75 635.42 2833.70 630.14C2836.59 624.97 2839.46 620.06 2842.50 614.89C2845.68 609.50 2849.28 603.50 2852.40 598.43C2855.10 594.04 2857.58 591.10 2860.10 586.20C2863.49 579.61 2867.06 571.92 2870.00 562.00C2874.35 547.31 2877.04 523.41 2880.70 505.70C2883.99 489.78 2887.62 475.65 2890.80 460.50C2893.99 445.26 2897.06 428.74 2899.80 414.53C2902.16 402.25 2904.06 392.07 2906.30 380.17C2908.72 367.30 2911.51 349.57 2913.80 340.00C2915.10 334.57 2915.73 330.94 2917.50 327.40C2919.01 324.39 2920.84 321.36 2923.20 319.80C2925.33 318.39 2928.17 318.25 2930.70 317.95C2933.21 317.66 2936.45 319.29 2938.30 318.00C2940.52 316.45 2940.80 311.29 2942.00 307.68C2943.31 303.73 2944.49 299.69 2945.80 295.22C2947.31 290.04 2948.93 283.98 2950.50 278.40C2952.06 272.87 2953.59 267.22 2955.20 261.90C2956.72 256.88 2958.27 251.95 2959.90 247.32C2961.41 243.05 2962.51 237.94 2964.60 235.10C2966.10 233.06 2968.19 230.80 2969.90 230.90C2971.66 231.00 2973.60 233.81 2975.00 236.00C2976.73 238.71 2977.64 242.56 2978.80 246.40C2980.19 250.99 2981.27 256.56 2982.50 261.79C2983.77 267.22 2985.04 272.83 2986.30 278.40C2987.57 284.03 2988.65 290.26 2990.10 295.40C2991.33 299.78 2992.50 302.71 2994.20 307.39C2996.65 314.14 2999.72 325.93 3003.60 331.90C3006.36 336.15 3009.39 340.43 3013.00 341.30C3016.49 342.14 3021.04 339.51 3024.80 337.50C3028.95 335.28 3033.20 328.03 3036.60 328.10C3039.26 328.16 3041.30 331.11 3043.60 334.20C3047.63 339.62 3051.81 350.33 3055.40 360.20C3059.86 372.44 3063.70 388.86 3067.20 402.50C3070.44 415.14 3072.84 426.84 3075.80 439.21C3078.83 451.90 3081.74 464.98 3085.20 477.70C3088.65 490.38 3092.56 503.48 3096.50 515.40C3100.12 526.34 3103.84 535.94 3107.80 546.60C3111.99 557.87 3115.99 570.70 3121.00 581.30C3125.53 590.89 3131.05 599.75 3136.10 607.70C3140.49 614.61 3144.84 621.19 3149.30 626.50C3153.02 630.93 3156.35 634.42 3160.60 637.80C3165.07 641.36 3170.14 644.66 3175.60 647.20C3181.38 649.89 3188.19 651.35 3194.50 653.26C3200.76 655.15 3207.44 656.77 3213.30 658.59C3218.52 660.22 3223.10 661.93 3228.00 663.60" fill="none" stroke="#d34e3a" stroke-width="3.30" stroke-linejoin="round" stroke-linecap="round" /><rect x="2438.50" y="26.50" width="827.00" height="669.00" fill="none" stroke="#000" stroke-width="3.00"/><line x1="2438.50" y1="666.50" x2="2453.50" y2="666.50" stroke="#000" stroke-width="3.00"/><line x1="2438.50" y1="555.30" x2="2453.50" y2="555.30" stroke="#000" stroke-width="3.00"/><line x1="2438.50" y1="444.10" x2="2453.50" y2="444.10" stroke="#000" stroke-width="3.00"/><line x1="2438.50" y1="332.90" x2="2453.50" y2="332.90" stroke="#000" stroke-width="3.00"/><line x1="2438.50" y1="221.70" x2="2453.50" y2="221.70" stroke="#000" stroke-width="3.00"/><line x1="2438.50" y1="110.50" x2="2453.50" y2="110.50" stroke="#000" stroke-width="3.00"/><line x1="2476.50" y1="695.50" x2="2476.50" y2="680.50" stroke="#000" stroke-width="3.00"/><line x1="2643.50" y1="695.50" x2="2643.50" y2="680.50" stroke="#000" stroke-width="3.00"/><line x1="2810.50" y1="695.50" x2="2810.50" y2="680.50" stroke="#000" stroke-width="3.00"/><line x1="2977.50" y1="695.50" x2="2977.50" y2="680.50" stroke="#000" stroke-width="3.00"/><line x1="3144.50" y1="695.50" x2="3144.50" y2="680.50" stroke="#000" stroke-width="3.00"/><path d="M2809.50 695.50L2809.50 26.50" stroke="#808080" stroke-opacity="0.80" stroke-width="3.00" stroke-linecap="round" stroke-dasharray="12.80 15.07" stroke-dashoffset="6.10" fill="none"/><text transform="translate(2391.46 680.20) scale(1.1000 1)" font-size="47.60" font-style="normal" fill="#000" stroke="#fff" stroke-width="0.45">0</text><text transform="translate(2348.66 569.00) scale(1.1000 1)" font-size="47.60" font-style="normal" fill="#000" stroke="#fff" stroke-width="0.45">0</text><text transform="translate(2376.61 569.00) scale(1.1000 1)" font-size="47.60" font-style="normal" fill="#000" stroke="#fff" stroke-width="0.45">.</text><text transform="translate(2390.96 569.00) scale(1.1000 1)" font-size="47.60" font-style="normal" fill="#000" stroke="#fff" stroke-width="0.45">5</text><text transform="translate(2347.93 457.80) scale(1.1000 1)" font-size="47.60" font-style="normal" fill="#000" stroke="#fff" stroke-width="0.45">1</text><text transform="translate(2376.61 457.80) scale(1.1000 1)" font-size="47.60" font-style="normal" fill="#000" stroke="#fff" stroke-width="0.45">.</text><text transform="translate(2391.46 457.80) scale(1.1000 1)" font-size="47.60" font-style="normal" fill="#000" stroke="#fff" stroke-width="0.45">0</text><text transform="translate(2347.93 346.60) scale(1.1000 1)" font-size="47.60" font-style="normal" fill="#000" stroke="#fff" stroke-width="0.45">1</text><text transform="translate(2376.61 346.60) scale(1.1000 1)" font-size="47.60" font-style="normal" fill="#000" stroke="#fff" stroke-width="0.45">.</text><text transform="translate(2390.96 346.60) scale(1.1000 1)" font-size="47.60" font-style="normal" fill="#000" stroke="#fff" stroke-width="0.45">5</text><text transform="translate(2348.95 235.40) scale(1.1000 1)" font-size="47.60" font-style="normal" fill="#000" stroke="#fff" stroke-width="0.45">2</text><text transform="translate(2376.61 235.40) scale(1.1000 1)" font-size="47.60" font-style="normal" fill="#000" stroke="#fff" stroke-width="0.45">.</text><text transform="translate(2391.46 235.40) scale(1.1000 1)" font-size="47.60" font-style="normal" fill="#000" stroke="#fff" stroke-width="0.45">0</text><text transform="translate(2348.95 124.20) scale(1.1000 1)" font-size="47.60" font-style="normal" fill="#000" stroke="#fff" stroke-width="0.45">2</text><text transform="translate(2376.61 124.20) scale(1.1000 1)" font-size="47.60" font-style="normal" fill="#000" stroke="#fff" stroke-width="0.45">.</text><text transform="translate(2390.96 124.20) scale(1.1000 1)" font-size="47.60" font-style="normal" fill="#000" stroke="#fff" stroke-width="0.45">5</text><rect x="2445.75" y="736.90" width="31.20" height="2.10" fill="#000"/><text transform="translate(2486.41 750.00) scale(1.1000 1)" font-size="47.60" font-style="normal" fill="#000" stroke="#fff" stroke-width="0.45">8</text><rect x="2612.75" y="736.90" width="31.20" height="2.10" fill="#000"/><text transform="translate(2653.31 750.00) scale(1.1000 1)" font-size="47.60" font-style="normal" fill="#000" stroke="#fff" stroke-width="0.45">4</text><text transform="translate(2796.51 750.00) scale(1.1000 1)" font-size="47.60" font-style="normal" fill="#000" stroke="#fff" stroke-width="0.45">0</text><text transform="translate(2963.41 750.00) scale(1.1000 1)" font-size="47.60" font-style="normal" fill="#000" stroke="#fff" stroke-width="0.45">4</text><text transform="translate(3130.51 750.00) scale(1.1000 1)" font-size="47.60" font-style="normal" fill="#000" stroke="#fff" stroke-width="0.45">8</text><line x1="3000.80" y1="76.40" x2="3079.00" y2="76.40" stroke="#3985b4" stroke-width="3.3" stroke-linecap="round"/><line x1="3000.80" y1="134.20" x2="3079.00" y2="134.20" stroke="#d34e3a" stroke-width="3.3" stroke-linecap="round"/><text transform="translate(3099.41 86.45) scale(1.1935 1)" font-size="46.19" font-style="normal" fill="#000" stroke="#fff" stroke-width="0.43">d</text><text transform="translate(3130.31 93.59) scale(1.1254 1)" font-size="31.40" font-style="normal" fill="#000" stroke="#fff" stroke-width="0.22">3</text><text transform="translate(3152.01 93.90) scale(1.2108 1)" font-size="30.50" font-style="italic" fill="#000" stroke="#fff" stroke-width="0.21">z</text><text transform="translate(3168.07 87.30) scale(1.2509 1)" font-size="20.54" font-style="normal" fill="#000" stroke="#fff" stroke-width="0.14">2</text><text transform="translate(3216.02 93.50) scale(1.4388 1)" font-size="28.86" font-style="italic" fill="#000" stroke="#fff" stroke-width="0.20">r</text><text transform="translate(3234.07 87.30) scale(1.2509 1)" font-size="20.54" font-style="normal" fill="#000" stroke="#fff" stroke-width="0.14">2</text><text transform="translate(3099.41 144.55) scale(1.1862 1)" font-size="46.47" font-style="normal" fill="#000" stroke="#fff" stroke-width="0.44">d</text><text transform="translate(3132.46 151.60) scale(1.2710 1)" font-size="29.63" font-style="italic" fill="#000" stroke="#fff" stroke-width="0.20">x</text><text transform="translate(3152.63 145.90) scale(1.1562 1)" font-size="21.14" font-style="normal" fill="#000" stroke="#fff" stroke-width="0.15">2</text><text transform="translate(3204.23 151.74) scale(1.0126 1)" font-size="29.93" font-style="italic" fill="#000" stroke="#fff" stroke-width="0.21">y</text><text transform="translate(3219.91 145.90) scale(1.1679 1)" font-size="21.14" font-style="normal" fill="#000" stroke="#fff" stroke-width="0.15">2</text><rect x="3188.00" y="84.70" width="21.30" height="1.7" fill="#000"/><rect x="3172.00" y="142.30" width="21.80" height="1.7" fill="#000"/><text transform="translate(2461.41 87.26) scale(0.9164 1)" font-size="51.83" font-style="normal" fill="#000" stroke="#fff" stroke-width="0.49">(</text><text transform="translate(2480.66 86.86) scale(1.1394 1)" font-size="44.70" font-style="normal" fill="#000" stroke="#fff" stroke-width="0.42">c</text><text transform="translate(2507.01 87.26) scale(0.8939 1)" font-size="51.83" font-style="normal" fill="#000" stroke="#fff" stroke-width="0.49">)</text><text transform="translate(2834.92 804.79) scale(1.1375 1)" font-size="41.80" font-style="italic" fill="#000">ω</text><g transform="rotate(-90 2285.00 360.00)"><text transform="translate(2218.87 370.60) scale(1.1386 1)" font-size="49.33" font-style="normal" fill="#000" stroke="#fff" stroke-width="0.46">I</text><text transform="translate(2239.46 370.60) scale(1.1831 1)" font-size="45.84" font-style="normal" fill="#000" stroke="#fff" stroke-width="0.43">m</text><text transform="translate(2287.82 370.50) scale(1.2532 1)" font-size="49.48" font-style="italic" fill="#000" stroke="#fff" stroke-width="0.46">Σ</text><text transform="translate(2329.17 371.29) scale(0.8054 1)" font-size="51.72" font-style="normal" fill="#000" stroke="#fff" stroke-width="0.48">(</text><text transform="translate(2345.68 371.35) scale(1.0006 1)" font-size="45.77" font-style="italic" fill="#000" stroke="#fff" stroke-width="0.43">ω</text><text transform="translate(2380.03 371.29) scale(0.8807 1)" font-size="51.72" font-style="normal" fill="#000" stroke="#fff" stroke-width="0.48">)</text><rect x="2177.80" y="358.15" width="31.30" height="2.3" fill="#000"/></g></svg></body></html>
